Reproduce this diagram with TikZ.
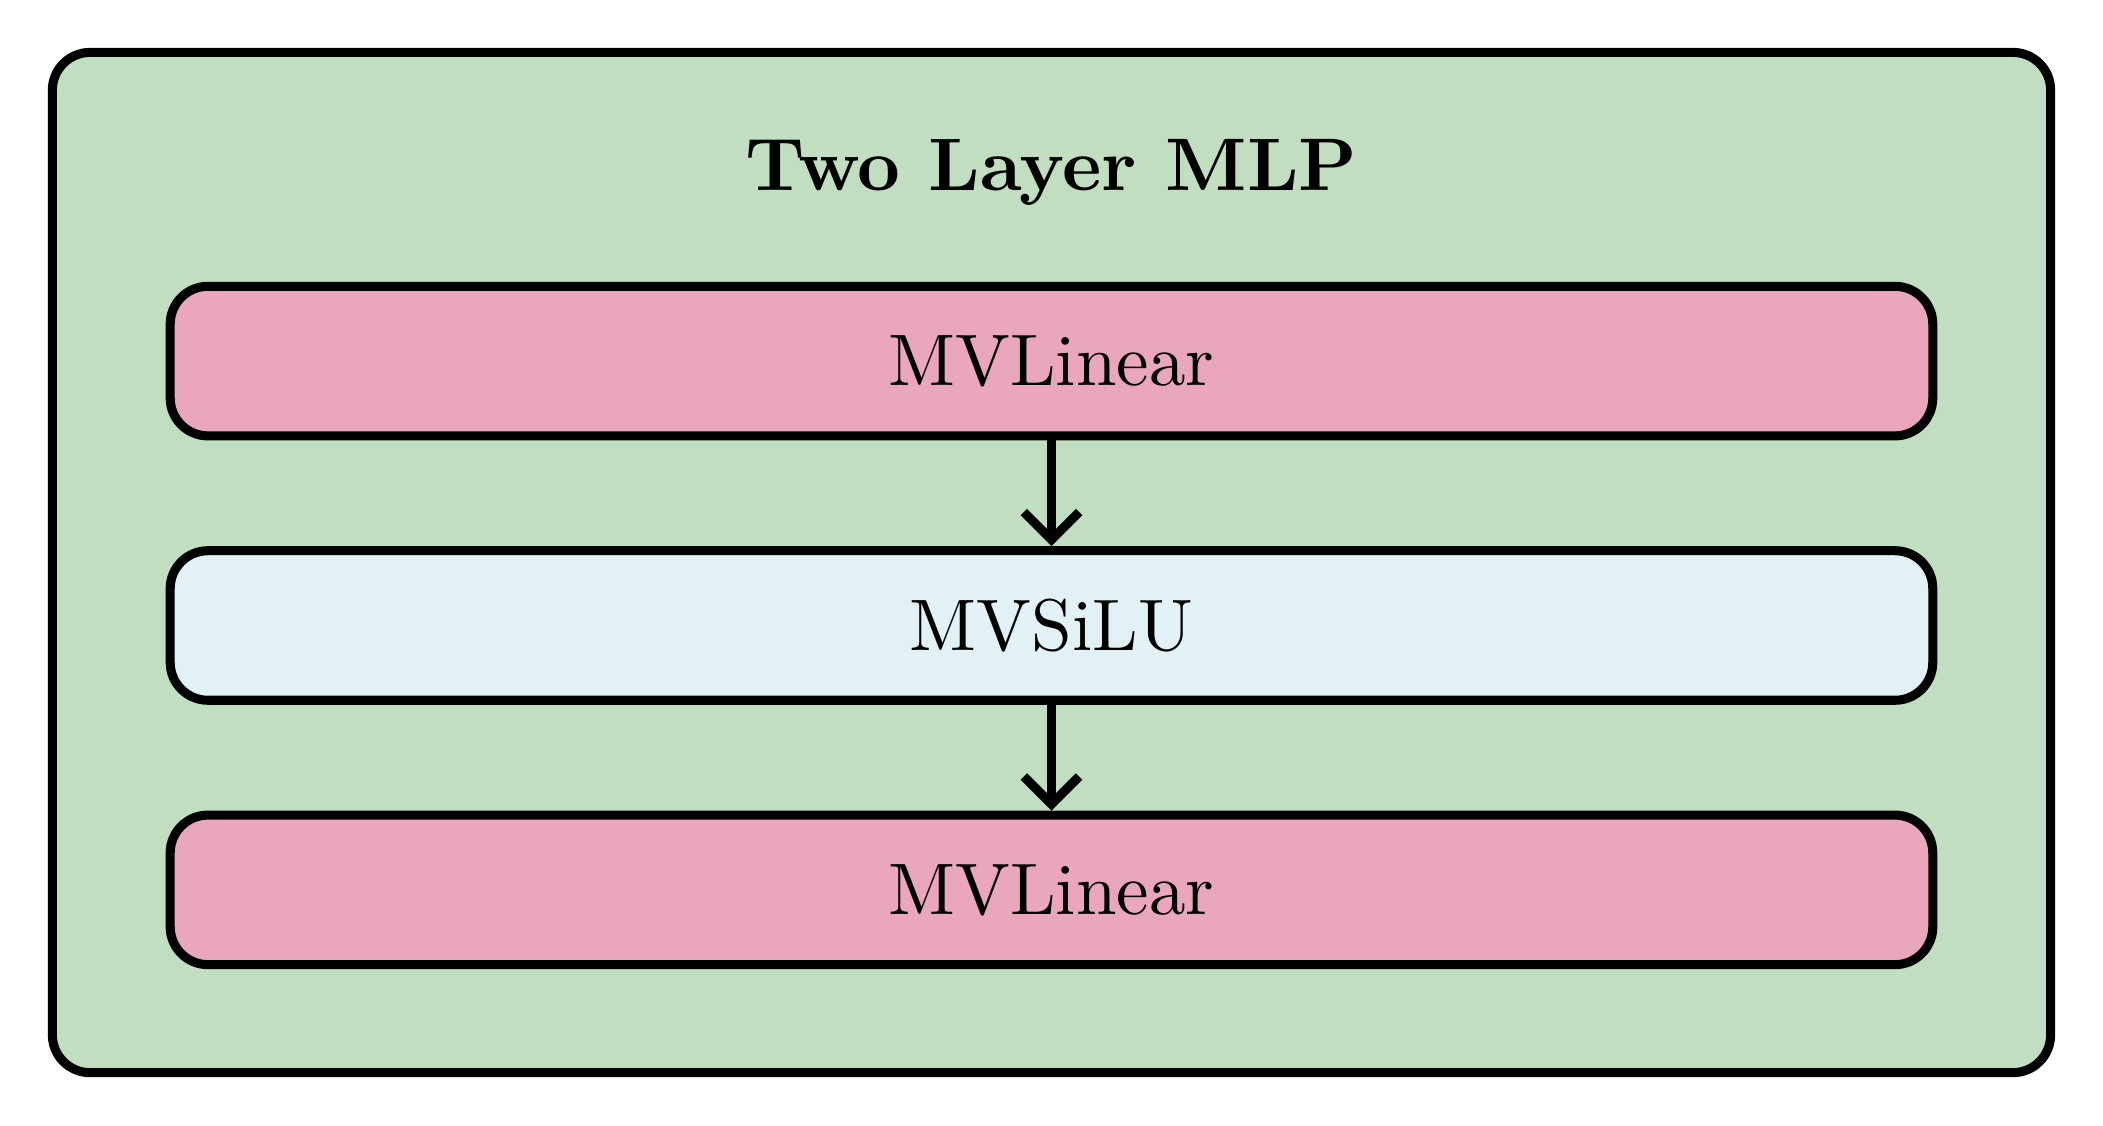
\documentclass[tikz,border=0pt]{standalone}
\usepackage{amsmath}
\usepackage{graphicx}
\usepackage{tikz}
\usetikzlibrary{arrows.meta}
\usetikzlibrary{positioning}

\definecolor{mlpgreen}{RGB}{193,223,192}
\definecolor{linpink}{RGB}{233,166,188}
\definecolor{silublue}{RGB}{225,241,246}
\newcommand{\boxtext}[1]{\scalebox{1.45}{#1}}

\begin{document}
\begin{tikzpicture}[
  mvbox/.style={draw, line width=1.8pt, rounded corners=7.5pt, minimum width=35em, minimum height=2.97em, inner sep=0pt},
  flow/.style={line width=1.8pt, -{Straight Barb[length=5.5pt,width=11pt]}}
]

% Frame
\useasboundingbox (-20.88em,-11.17em) rectangle (20.88em,11.17em);

% MLP
\node [draw, line width=1.8pt, rounded corners=7.5pt, fill=mlpgreen, minimum width=39.68em, minimum height=20.26em] at (0em,0em) (mlp) {};
\node at (0em,7.75em) (title) {\scalebox{1.48}{\textbf{Two Layer MLP}}};

% Layers
\node [mvbox, fill=linpink] at (0em,4em) (lin1) {\boxtext{MVLinear}};
\node [mvbox, fill=silublue] at (0em,-1.25em) (silu) {\boxtext{MVSiLU}};
\node [mvbox, fill=linpink] at (0em,-6.5em) (lin2) {\boxtext{MVLinear}};

% Arrows
\draw[flow] (lin1) -- (silu);
\draw[flow] (silu) -- (lin2);

\end{tikzpicture}
\end{document}
